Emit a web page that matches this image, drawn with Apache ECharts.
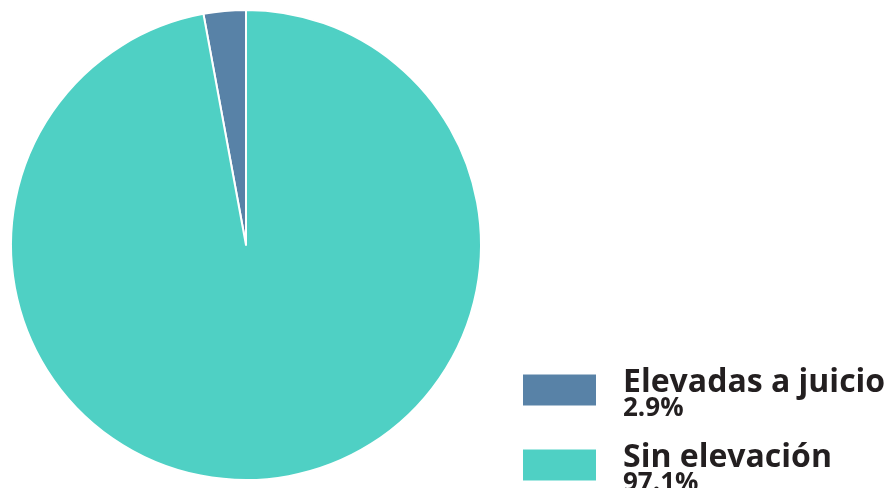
<!DOCTYPE html>
<html>
<head>
<meta charset="utf-8">
<script src="https://cdn.jsdelivr.net/npm/echarts@6/dist/echarts.min.js"></script>
<style>
  html, body { margin: 0; padding: 0; background: #fff; }
  #chart { width: 895px; height: 488px; }
</style>
</head>
<body>
<div id="chart"></div>
<script>
// Data
const categories = ['Elevadas a juicio', 'Sin elevación'];
const percents = [2.9, 97.1];
const colors = ['#5882a7', '#4fd0c4'];

const chart = echarts.init(document.getElementById('chart'));

// one legend per item so the second one does not wrap off the page
const legendTops = [367, 442];
const legends = categories.map((c, i) => ({
  orient: 'vertical',
  left: 521,
  top: legendTops[i],
  padding: 0,
  itemWidth: 75,
  itemHeight: 33,
  icon: 'rect',
  data: [c],
  formatter: (name) => '{n|' + name + '}\n{p|' + percents[i].toFixed(1) + '%}',
  textStyle: {
    padding: [8, 0, 0, 21],
    rich: {
      n: {
        fontFamily: 'Open Sans',
        fontWeight: 'bold',
        fontSize: 32,
        lineHeight: 30,
        color: '#231f20',
      },
      p: {
        fontFamily: 'Open Sans',
        fontWeight: 'bold',
        fontSize: 26,
        lineHeight: 22,
        color: '#231f20',
      },
    },
  },
}));

const option = {
  animation: false,
  color: colors,
  legend: legends,
  series: [
    {
      type: 'pie',
      center: [246, 245],
      radius: 235,
      startAngle: 90,
      clockwise: false,
      label: { show: false },
      labelLine: { show: false },
      itemStyle: { borderColor: '#fff', borderWidth: 2 },
      data: categories.map((c, i) => ({ name: c, value: percents[i] })),
    },
  ],
};

chart.setOption(option);
</script>
</body>
</html>
